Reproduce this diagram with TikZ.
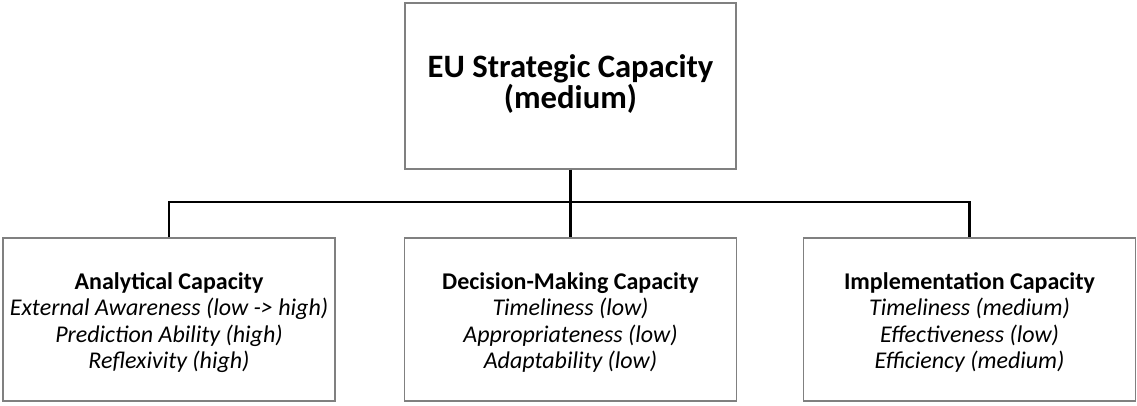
\documentclass[tikz,border=0pt]{standalone}
\usepackage{fontspec}
\setmainfont{Carlito}
\begin{document}
\begin{tikzpicture}[x=0.75pt,y=-0.75pt,
  box/.style={draw=black!50, line width=1pt, fill=white, align=center, inner sep=0pt},
  topbox/.style={box, minimum width=248.25pt, minimum height=124.5pt},
  toptext/.style={align=center, inner sep=0pt, font=\fontsize{24.5}{23.5}\selectfont\bfseries},
  subbox/.style={box, minimum width=249pt, minimum height=122.25pt},
  subtext/.style={align=center, inner sep=0pt, font=\fontsize{18}{19.8}\selectfont},
  link/.style={draw=black, line width=1.9pt}]
  \useasboundingbox (0,0) rectangle (1137,405);

  % overall capacity
  \node[topbox] (top) at (570.5,86) {};
  \node[toptext] (toptxt) at (570.5,84) {EU Strategic Capacity\\(medium)};

  % the three component capacities
  \node[subbox] (ana) at (169,319.5) {};
  \node[subtext] (anatxt) at (169,322.5) {\textbf{Analytical Capacity}\\
    \textit{External Awareness (low -> high)}\\
    \textit{Prediction Ability (high)}\\
    \textit{Reflexivity (high)}};
  \node[subbox] (dec) at (570.5,319.5) {};
  \node[subtext] (dectxt) at (570.5,322.5) {\textbf{Decision-Making Capacity}\\
    \textit{Timeliness (low)}\\
    \textit{Appropriateness (low)}\\
    \textit{Adaptability (low)}};
  \node[subbox] (imp) at (969.5,319.5) {};
  \node[subtext] (imptxt) at (969.5,322.5) {\textbf{Implementation Capacity}\\
    \textit{Timeliness (medium)}\\
    \textit{Effectiveness (low)}\\
    \textit{Efficiency (medium)}};

  % tree connectors
  \coordinate (bus) at (570.5,202);
  \draw[link] (top.south) -- (bus);
  \draw[link] (ana.north) |- (bus) -| (imp.north);
  \draw[link] (bus) -- (dec.north);
\end{tikzpicture}
\end{document}
